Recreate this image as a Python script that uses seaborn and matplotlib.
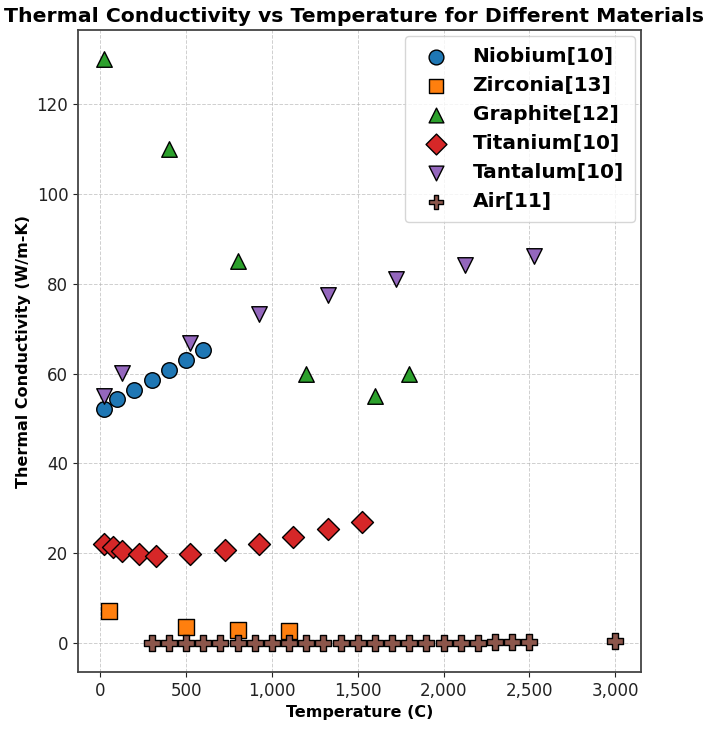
import pandas as pd
import matplotlib
matplotlib.use("Agg")
import matplotlib.pyplot as plt
import seaborn as sns
from matplotlib.ticker import FuncFormatter

# 数据
niobium_t = [20, 100, 200, 300, 400, 500, 600]
niobium_k = [52.0, 54.4, 56.4, 58.5, 60.7, 63.1, 65.2]

zirconia_t = [50, 500, 800, 1100]
zirconia_k = [7.2, 3.6, 3.0, 2.6]

graphite_t = [20, 400, 800, 1200, 1600, 1800]
graphite_k = [130, 110, 85, 60, 55, 60]

titanium_t = [20, 75, 125, 225, 325, 525, 725, 925, 1125, 1325, 1525]
titanium_k = [22.0, 21.3, 20.4, 19.8, 19.4, 19.8, 20.7, 22.0, 23.6, 25.3, 27.0]

tantalum_t = [20, 125, 525, 925, 1325, 1725, 2125, 2525]
tantalum_k = [55.0, 60.2, 66.9, 73.3, 77.4, 81.1, 84.1, 86.2]

air_t = [300, 400, 500, 600, 700, 800, 900, 1000, 1100, 1200, 1300, 1400,
         1500, 1600, 1700, 1800, 1900, 2000, 2100, 2200, 2300, 2400, 2500, 3000]
air_k = [0.026, 0.034, 0.040, 0.047, 0.052, 0.057, 0.062, 0.067, 0.071, 0.076,
         0.080, 0.085, 0.090, 0.095, 0.100, 0.105, 0.110, 0.115, 0.120, 0.125,
         0.130, 0.135, 0.140, 0.45]

materials = [
    ("Niobium[10]", niobium_t, niobium_k, "o"),
    ("Zirconia[13]", zirconia_t, zirconia_k, "s"),
    ("Graphite[12]", graphite_t, graphite_k, "^"),
    ("Titanium[10]", titanium_t, titanium_k, "D"),
    ("Tantalum[10]", tantalum_t, tantalum_k, "v"),
    ("Air[11]", air_t, air_k, "P"),
]
colors = sns.color_palette("tab10", 6)

fig, ax = plt.subplots(figsize=(7.09, 7.29), dpi=100)

# 每种材料画一组散点
for (name, t, k, m), c in zip(materials, colors):
    df = pd.DataFrame({"Temperature": t, "Conductivity": k})
    sns.scatterplot(data=df, x="Temperature", y="Conductivity", ax=ax,
                    marker=m, color=c, s=125, edgecolor="black",
                    linewidth=1.0, label=name, zorder=3)

ax.grid(True, linestyle="--", linewidth=0.7, alpha=0.6, zorder=0)
ax.set_axisbelow(True)
for sp in ax.spines.values():
    sp.set_color("#444444")
    sp.set_linewidth(1.3)

ax.xaxis.set_major_formatter(FuncFormatter(lambda x, _: f"{x:,.0f}"))
ax.tick_params(labelsize=12, colors="#222222")

ax.set_xlabel("Temperature (C)", fontsize=11.5, fontweight="bold")
ax.set_ylabel("Thermal Conductivity (W/m-K)", fontsize=11.5, fontweight="bold")
fig.text(0.5, 0.977, "Thermal Conductivity vs Temperature for Different Materials",
         fontsize=14.7, fontweight="bold", ha="center", va="center")

ax.legend(loc="upper right", prop={"weight": "bold", "size": 14.5},
          labelspacing=0.5, borderpad=0.55, handletextpad=0.8,
          markerscale=0.95, borderaxespad=0.3)

fig.subplots_adjust(left=0.11, right=0.904, bottom=0.078, top=0.959)
plt.savefig("out.png", dpi=100)
